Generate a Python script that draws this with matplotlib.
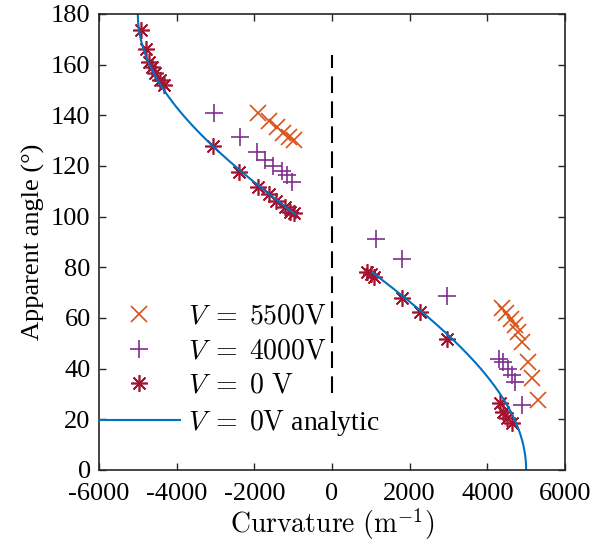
import numpy as np
import matplotlib
matplotlib.use('Agg')
import matplotlib.pyplot as plt

plt.rcParams['mathtext.fontset'] = 'cm'
plt.rcParams['font.family'] = ['Liberation Serif', 'DejaVu Serif']
plt.rcParams['axes.unicode_minus'] = False

# V = 5500 V
k5500 = [-1893, -1635, -1419, -1249, -1102, -991,
         4375, 4486, 4607, 4700, 4787, 4890, 5060, 5147, 5317]
a5500 = [140.8, 137.8, 135.3, 132.9, 131.6, 130.3,
         63.8, 61.9, 59.5, 57.2, 54.6, 50.6, 42.8, 36.2, 27.6]

# V = 4000 V
k4000 = [-3051, -2364, -1934, -1720, -1522, -1290, -1161, -1033,
         1138, 1800, 2958, 4288, 4416, 4545, 4648, 4700, 4890]
a4000 = [140.8, 131.6, 125.7, 122.4, 120.1, 118.0, 116.5, 113.8,
         91.2, 83.3, 68.8, 44.0, 42.8, 39.8, 37.5, 34.9, 25.7]

# V = 0 V
k0 = [-4921, -4792, -4707, -4638, -4553, -4441, -4339,
      -3077, -2382, -1893, -1635, -1437, -1205, -1076, -991,
      899, 1000, 1087, 1800, 2271, 2958,
      4331, 4416, 4504, 4632]
a0 = [173.7, 166.2, 161.2, 159.2, 156.6, 154.0, 152.0,
      128.0, 117.5, 111.8, 108.8, 106.2, 103.7, 102.0, 101.3,
      78.3, 77.5, 76.3, 67.8, 62.3, 51.6,
      26.3, 23.0, 20.4, 18.4]

# analytic: curvature = k_max * cos(angle)
k_max = 5000
th_left = np.linspace(101, 180, 200)
th_right = np.linspace(0, 78, 200)

c_an = '#0072BD'
c55 = '#D95319'
c40 = '#7E2F8E'
c0 = '#A2142F'

fig = plt.figure(figsize=(6.08, 5.45), dpi=100)
ax = fig.add_axes([99/608, 1-470/545, 466/608, 456/545])

ax.plot(k5500, a5500, ls='none', marker='x', ms=11, mew=1.2, color=c55,
        label=r'$V\;=\;5500\mathrm{V}$')
ax.plot(k4000, a4000, ls='none', marker='+', ms=13, mew=1.2, color=c40,
        label=r'$V\;=\;4000\mathrm{V}$')
ax.plot(k0, a0, ls='none', marker=(8, 2, 0), ms=12, mew=1.2, color=c0,
        label=r'$V\;=\;0\ \mathrm{V}$')
ax.plot(k_max*np.cos(np.radians(th_left)), th_left, color=c_an, lw=1.5,
        label=r'$V\;=\;0\mathrm{V}$ analytic')
ax.plot(k_max*np.cos(np.radians(th_right)), th_right, color=c_an, lw=1.5)

ax.plot([0, 0], [30.4, 163.8], color='k', lw=1.5, dashes=(8, 4))

ax.set_xlim(-6000, 6000)
ax.set_ylim(0, 180)
ax.set_xticks(np.arange(-6000, 6001, 2000))
ax.set_yticks(np.arange(0, 181, 20))
ax.tick_params(direction='in', top=True, right=True, length=5, width=1,
               labelsize=19, color='#262626')
ax.tick_params(axis='x', pad=9)
ax.tick_params(axis='y', pad=6)
for s in ax.spines.values():
    s.set_linewidth(1.2)
    s.set_color('#262626')

ax.set_xlabel(r'$\mathrm{Curvature\ (m^{-1})}$', fontsize=20, labelpad=1)
ax.set_ylabel('Apparent angle (°)', fontsize=19)

leg = ax.legend(loc='lower left', bbox_to_anchor=(0, 0.07), frameon=False,
                fontsize=20, borderaxespad=0, borderpad=0, handlelength=2.9,
                handletextpad=0.3, labelspacing=0.33)

fig.savefig('out.png', dpi=100)
